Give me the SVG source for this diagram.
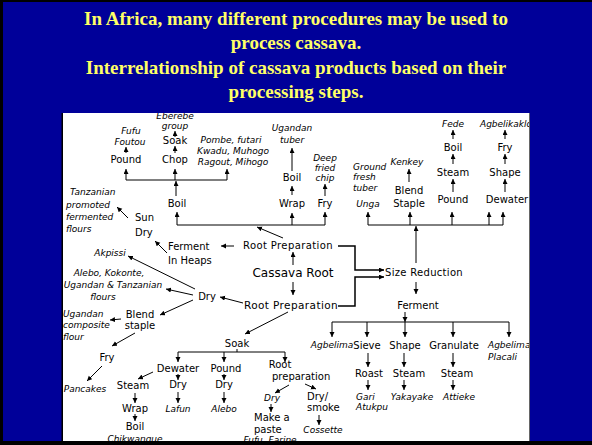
<svg xmlns="http://www.w3.org/2000/svg" width="592" height="445" viewBox="0 0 592 445">
<style>
.t{font-family:"Liberation Serif","Times New Roman",serif;font-weight:bold;font-size:19px;fill:#FFFF66;text-anchor:middle}
.n{font-family:"DejaVu Sans",Verdana,sans-serif;font-size:10px;fill:#000;text-anchor:middle}
.i{font-family:"DejaVu Sans",Verdana,sans-serif;font-size:9px;font-style:italic;fill:#000;text-anchor:middle}
.s{text-anchor:start}
.rp{letter-spacing:0.4px}
.big{font-size:12px}
.c path,.c line{stroke:#000;stroke-width:1;fill:none}
.a{marker-end:url(#ah)}
.g{stroke:#555 !important}
</style>
<defs>
<marker id="ah" markerUnits="userSpaceOnUse" markerWidth="6" markerHeight="6" refX="5" refY="2.5" orient="auto">
<path d="M0,0 L5,2.5 L0,5 z" fill="#000" stroke="none"/>
</marker>
<clipPath id="clip"><rect x="63" y="113" width="466" height="328"/></clipPath>
</defs>
<rect x="0" y="0" width="592" height="445" fill="#000099"/>
<rect x="0" y="0" width="592" height="2" fill="#000"/>
<rect x="0" y="0" width="3" height="445" fill="#000"/>
<g id="title">
<text class="t" x="296" y="25">In Africa, many different procedures may be used to</text>
<text class="t" x="296" y="49">process cassava.</text>
<text class="t" x="296" y="74">Interrelationship of cassava products based on their</text>
<text class="t" x="296" y="98">processing steps.</text>
</g>
<rect x="63" y="113" width="466" height="328" fill="#fff"/>
<rect x="61.5" y="113" width="1.5" height="329" fill="#000"/>
<rect x="529" y="113" width="1" height="329" fill="#666"/>
<rect x="0" y="441" width="592" height="4" fill="#000"/>
<g clip-path="url(#clip)">
<g id="connectors" class="c">
<!-- top-left cluster -->
<line class="a" x1="175" y1="137" x2="175" y2="131"/>
<line class="a" x1="175" y1="153" x2="175" y2="146"/>
<line class="a" x1="126" y1="153" x2="126" y2="147"/>
<path d="M126 180 H227"/>
<line class="a" x1="126" y1="180" x2="126" y2="169"/>
<line class="a" x1="175" y1="180" x2="175" y2="169"/>
<line class="a" x1="227" y1="180" x2="227" y2="169"/>
<line class="a" x1="176" y1="196" x2="176" y2="181"/>
<path d="M177 225 H325"/>
<line class="a" x1="177" y1="225" x2="177" y2="212"/>
<line class="a" x1="292" y1="225" x2="292" y2="213"/>
<line class="a" x1="325" y1="225" x2="325" y2="212"/>
<line class="a" x1="292" y1="195" x2="292" y2="186"/>
<line class="a" x1="292" y1="171" x2="292" y2="148"/>
<line class="a" x1="325" y1="196" x2="325" y2="184"/>
<!-- top-right cluster -->
<path d="M368 225 H503"/>
<line class="a" x1="368" y1="225" x2="368" y2="212"/>
<line class="a" x1="410" y1="225" x2="410" y2="212"/>
<line class="a" x1="452" y1="225" x2="452" y2="212"/>
<line class="a" x1="489" y1="225" x2="489" y2="212"/>
<line class="a" x1="503" y1="225" x2="503" y2="212"/>
<line class="a" x1="409" y1="182" x2="409" y2="169"/>
<line class="a" x1="453" y1="139" x2="453" y2="130"/>
<line class="a" x1="453" y1="164" x2="453" y2="154"/>
<line class="a" x1="453" y1="192" x2="453" y2="179"/>
<line class="a" x1="505" y1="139" x2="505" y2="130"/>
<line class="a" x1="505" y1="164" x2="505" y2="154"/>
<line class="a" x1="505" y1="192" x2="505" y2="179"/>
<!-- center -->
<line class="a" x1="283" y1="238" x2="257" y2="227"/>
<line class="a" x1="234" y1="246" x2="221" y2="246"/>
<line class="a" x1="167" y1="253" x2="155" y2="241"/>
<line class="a" x1="128" y1="218" x2="117" y2="207"/>
<line class="a" x1="293" y1="265" x2="293" y2="252"/>
<line class="a" x1="293" y1="282" x2="293" y2="295"/>
<line class="a" x1="243" y1="303" x2="220" y2="297"/>
<line class="a" x1="195" y1="289" x2="128" y2="256"/>
<line class="a" x1="193" y1="295" x2="166" y2="289"/>
<line class="a" x1="193" y1="300" x2="160" y2="315"/>
<line class="a" x1="121" y1="319" x2="110" y2="320"/>
<line class="a" x1="135" y1="333" x2="112" y2="346"/>
<line class="a" x1="102" y1="366" x2="87" y2="381"/>
<!-- soak branch -->
<line class="a" x1="288" y1="312" x2="245" y2="334"/>
<path d="M237 349 V352 M178 352 H285"/>
<line class="a" x1="178" y1="352" x2="178" y2="362"/>
<line class="a" x1="224" y1="352" x2="224" y2="362"/>
<line class="a" x1="285" y1="352" x2="285" y2="362"/>
<line class="a" x1="178" y1="374" x2="178" y2="380"/>
<line class="a" x1="178" y1="392" x2="178" y2="403"/>
<line class="a" x1="224" y1="374" x2="224" y2="380"/>
<line class="a" x1="224" y1="392" x2="224" y2="403"/>
<line class="a" x1="153" y1="372" x2="138" y2="379"/>
<line class="a" x1="135" y1="393" x2="135" y2="403"/>
<line class="a" x1="135" y1="414" x2="135" y2="421"/>
<line class="a" x1="289" y1="385" x2="275" y2="393"/>
<line class="a" x1="271" y1="404" x2="271" y2="412"/>
<line class="a" x1="305" y1="384" x2="316" y2="389"/>
<line class="a" x1="319" y1="415" x2="319" y2="425"/>
<!-- size reduction / ferment -->
<path class="a" d="M338 246 H355 V270 H384" style="stroke-width:1.5"/>
<path class="a" d="M338 306 H355 V277 H384" style="stroke-width:1.5"/>
<line class="a" x1="416" y1="263" x2="416" y2="226"/>
<line class="a" x1="416" y1="282" x2="416" y2="294"/>
<line class="a" x1="405" y1="312" x2="405" y2="322"/>
<path d="M332 322 H509"/>
<line class="a" x1="332" y1="322" x2="332" y2="337"/>
<line class="a" x1="367" y1="322" x2="367" y2="337"/>
<line class="a" x1="405" y1="322" x2="405" y2="337"/>
<line class="a" x1="453" y1="322" x2="453" y2="337"/>
<line class="a" x1="509" y1="322" x2="509" y2="337"/>
<line class="a" x1="368" y1="353" x2="368" y2="367"/>
<line class="a" x1="404" y1="353" x2="404" y2="367"/>
<line class="a" x1="453" y1="353" x2="453" y2="367"/>
<line class="a" x1="368" y1="380" x2="368" y2="390"/>
<line class="a" x1="404" y1="380" x2="404" y2="390"/>
<line class="a" x1="453" y1="380" x2="453" y2="390"/>
</g>
<g id="n-eberebe"><text class="i" x="175" y="119">Eberebe</text><text class="i" x="175" y="129">group</text></g>
<g id="n-soak1"><text class="n" x="175" y="144">Soak</text></g>
<g id="n-chop"><text class="n" x="175" y="163">Chop</text></g>
<g id="n-fufu"><text class="i" x="131" y="134">Fufu</text><text class="i" x="130" y="145">Foutou</text></g>
<g id="n-pound1"><text class="n" x="126" y="163">Pound</text></g>
<g id="n-pombe"><text class="i" x="231" y="143">Pombe,  futari</text><text class="i" x="233" y="154">Kwadu,  Muhogo</text><text class="i" x="233" y="165">Ragout,  Mihogo</text></g>
<g id="n-boil1"><text class="n" x="177" y="207">Boil</text></g>
<g id="n-ugandan-tuber"><text class="i" x="292" y="131">Ugandan</text><text class="i" x="292" y="143">tuber</text></g>
<g id="n-boil2"><text class="n" x="292" y="181">Boil</text></g>
<g id="n-wrap1"><text class="n" x="292" y="207">Wrap</text></g>
<g id="n-chip"><text class="i" x="325" y="161">Deep</text><text class="i" x="325" y="171">fried</text><text class="i" x="325" y="181">chip</text></g>
<g id="n-fry1"><text class="n" x="325" y="207">Fry</text></g>
<g id="n-ground"><text class="i s" x="353" y="170">Ground</text><text class="i s" x="353" y="180">fresh</text><text class="i s" x="353" y="191">tuber</text></g>
<g id="n-unga"><text class="i" x="368" y="207">Unga</text></g>
<g id="n-kenkey"><text class="i" x="407" y="165">Kenkey</text></g>
<g id="n-blend1"><text class="n" x="409" y="194">Blend</text><text class="n" x="409" y="207">Staple</text></g>
<g id="n-fede"><text class="i" x="453" y="127">Fede</text></g>
<g id="n-boil3"><text class="n" x="453" y="151">Boil</text></g>
<g id="n-steam1"><text class="n" x="453" y="176">Steam</text></g>
<g id="n-pound2"><text class="n" x="453" y="203">Pound</text></g>
<g id="n-agbelikaklo"><text class="i s" x="480" y="127">Agbelikaklo</text></g>
<g id="n-fry2"><text class="n" x="505" y="151">Fry</text></g>
<g id="n-shape1"><text class="n" x="505" y="176">Shape</text></g>
<g id="n-dewater1"><text class="n" x="507" y="203">Dewater</text></g>
<g id="n-rootprep1"><text class="n rp" x="288" y="249">Root  Preparation</text></g>
<g id="n-ferment1"><text class="n s" x="168" y="250">Ferment</text><text class="n s" x="168" y="264">In  Heaps</text></g>
<g id="n-sundry"><text class="n s" x="135" y="221">Sun</text><text class="n s" x="135" y="236">Dry</text></g>
<g id="n-tanzanian"><text class="i s" x="70" y="195">Tanzanian</text><text class="i s" x="66" y="208">promoted</text><text class="i s" x="66" y="220">fermented</text><text class="i s" x="66" y="232">flours</text></g>
<g id="n-cassava"><text class="n big" x="293" y="277">Cassava  Root</text></g>
<g id="n-rootprep2"><text class="n rp" x="291" y="309" style="font-size:10.5px">Root  Preparation</text></g>
<g id="n-dry1"><text class="n" x="207" y="300">Dry</text></g>
<g id="n-akpissi"><text class="i" x="110" y="256">Akpissi</text></g>
<g id="n-alebo-flours"><text class="i" x="109" y="276">Alebo,  Kokonte,</text><text class="i" x="113" y="288">Ugandan  &amp;  Tanzanian</text><text class="i" x="103" y="300">flours</text></g>
<g id="n-blend2"><text class="n" x="140" y="318">Blend</text><text class="n" x="140" y="329">staple</text></g>
<g id="n-ugandan-comp"><text class="i s" x="63" y="317">Ugandan</text><text class="i s" x="63" y="328">composite</text><text class="i s" x="63" y="340">flour</text></g>
<g id="n-fry3"><text class="n" x="107" y="361">Fry</text></g>
<g id="n-pancakes"><text class="i" x="85" y="392">Pancakes</text></g>
<g id="n-soak2"><text class="n" x="237" y="347">Soak</text></g>
<g id="n-dewater2"><text class="n" x="178" y="372">Dewater</text></g>
<g id="n-dry2"><text class="n" x="178" y="388">Dry</text></g>
<g id="n-lafun"><text class="i" x="178" y="412">Lafun</text></g>
<g id="n-steam2"><text class="n" x="133" y="389">Steam</text></g>
<g id="n-wrap2"><text class="n" x="135" y="412">Wrap</text></g>
<g id="n-boil4"><text class="n" x="135" y="430">Boil</text></g>
<g id="n-chikwangue"><text class="i" x="135" y="442">Chikwangue</text></g>
<g id="n-pound3"><text class="n" x="226" y="372">Pound</text></g>
<g id="n-dry3"><text class="n" x="224" y="388">Dry</text></g>
<g id="n-alebo"><text class="i" x="224" y="412">Alebo</text></g>
<g id="n-rootprep3"><text class="n" x="280" y="368">Root</text><text class="n s" x="272" y="380">preparation</text></g>
<g id="n-dry4"><text class="i" x="272" y="401">Dry</text></g>
<g id="n-paste"><text class="n s" x="254" y="421">Make  a</text><text class="n s" x="254" y="433">paste</text></g>
<g id="n-fufu-farine"><text class="i" x="270" y="443">Fufu,  Farine</text></g>
<g id="n-drysmoke"><text class="n s" x="307" y="400">Dry/</text><text class="n s" x="307" y="411">smoke</text></g>
<g id="n-cossette"><text class="i" x="323" y="433">Cossette</text></g>
<g id="n-size"><text class="n" x="424" y="276" style="letter-spacing:0.3px">Size  Reduction</text></g>
<g id="n-ferment2"><text class="n" x="418" y="309">Ferment</text></g>
<g id="n-agbelima1"><text class="i" x="332" y="348">Agbelima</text></g>
<g id="n-sieve"><text class="n" x="367" y="349">Sieve</text></g>
<g id="n-shape2"><text class="n" x="405" y="349">Shape</text></g>
<g id="n-granulate"><text class="n" x="454" y="349">Granulate</text></g>
<g id="n-agbelima2"><text class="i s" x="488" y="348">Agbelima</text><text class="i s" x="488" y="360">Placali</text></g>
<g id="n-roast"><text class="n" x="369" y="377">Roast</text></g>
<g id="n-steam3"><text class="n" x="409" y="377">Steam</text></g>
<g id="n-steam4"><text class="n" x="457" y="377">Steam</text></g>
<g id="n-gari"><text class="i s" x="356" y="400">Gari</text><text class="i s" x="356" y="410">Atukpu</text></g>
<g id="n-yakayake"><text class="i" x="412" y="400">Yakayake</text></g>
<g id="n-attieke"><text class="i" x="459" y="400">Attieke</text></g>
</g>
</svg>
